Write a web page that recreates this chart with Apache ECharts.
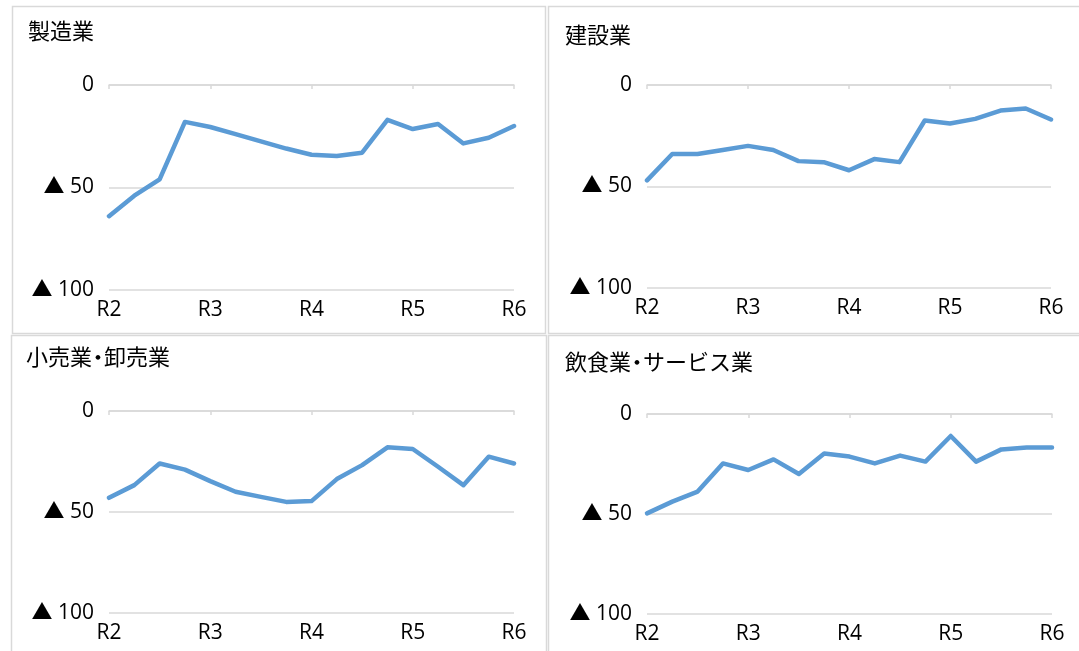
<!DOCTYPE html>
<html>
<head>
<meta charset="utf-8">
<script src="https://cdn.jsdelivr.net/npm/echarts@6/dist/echarts.min.js"></script>
<style>
  html, body { margin: 0; padding: 0; background: #ffffff; }
  #chart { width: 1079px; height: 651px; }
</style>
</head>
<body>
<div id="chart"></div>
<script>
// Fiscal-year tick labels (令和) and quarterly points between them
const yearTicks = ['R2', 'R3', 'R4', 'R5', 'R6'];
const quarters = [];
yearTicks.forEach((y, i) => {
  const n = i < yearTicks.length - 1 ? 4 : 1;
  for (let q = 0; q < n; q++) quarters.push(y + '-' + q);
});

// Panel titles
const panelTitles = ['製造業', '建設業', '小売業・卸売業', '飲食業・サービス業'];

// DI values per industry (negative = ▲)
const manufacturing = [-64, -54, -46, -18, -20.5, -24, -27.5, -31, -34, -34.6, -33, -17, -21.5, -19, -28.5, -25.7, -20];
const construction  = [-47, -34, -34, -32, -30, -32, -37.5, -38, -42, -36.5, -38, -17.5, -19, -16.7, -12.6, -11.6, -17];
const retail        = [-43, -36.7, -26, -29, -34.7, -40, -42.5, -45, -44.6, -33.7, -26.8, -18, -18.8, -27.6, -36.7, -22.6, -26];
const foodService   = [-49.7, -43.8, -38.8, -24.7, -28, -22.7, -30, -19.7, -21.3, -24.7, -20.8, -23.8, -11, -23.8, -17.7, -16.8, -16.8];

const seriesData = [manufacturing, construction, retail, foodService];

// Layout of the four panels
const grids = [
  { left: 109, top: 85,  width: 405, height: 205 },
  { left: 647, top: 85,  width: 404, height: 203 },
  { left: 109, top: 411, width: 405, height: 202 },
  { left: 647, top: 414, width: 405, height: 200 }
];
const titlePos = [
  { left: 28,  top: 20 },
  { left: 565, top: 24 },
  { left: 26,  top: 346 },
  { left: 565, top: 351 }
];

const GRID_COLOR = '#d9d9d9';
const LINE_COLOR = '#5b9bd5';
const LATIN = '"Open Sans", "Noto Sans CJK JP", sans-serif';
const CJK = '"Noto Sans CJK JP", sans-serif';

// Title text with a compact middle dot between the words
function titleRich(t) {
  return t.split('・').map(s => '{w|' + s + '}').join('{d|・}');
}

const xAxes = [];
const yAxes = [];
const series = [];

grids.forEach((g, i) => {
  // bottom axis: year labels only
  xAxes.push({
    type: 'category', gridIndex: i, position: 'bottom', data: quarters, boundaryGap: false,
    axisLine: { show: false }, axisTick: { show: false },
    axisLabel: {
      interval: 3, margin: 10, color: '#000', fontFamily: LATIN, fontSize: 21,
      formatter: v => v.split('-')[0]
    }
  });
  // top axis: the zero line with its tick marks
  xAxes.push({
    type: 'category', gridIndex: i, position: 'top', data: quarters, boundaryGap: false,
    axisLine: { show: true, lineStyle: { color: GRID_COLOR, width: 1.5 } },
    axisTick: { show: true, inside: true, length: 4, interval: 3, lineStyle: { color: GRID_COLOR, width: 1.5 } },
    axisLabel: { show: false }
  });
  yAxes.push({
    type: 'value', gridIndex: i, min: -100, max: 0, interval: 50,
    axisLine: { show: false }, axisTick: { show: false },
    splitLine: { lineStyle: { color: GRID_COLOR, width: 1.5 } },
    axisLabel: {
      margin: 15, color: '#000', fontFamily: LATIN, fontSize: 21,
      formatter: v => (v < 0 ? '▲ ' + (-v) : String(v))
    }
  });
  series.push({
    type: 'line', xAxisIndex: i * 2, yAxisIndex: i, data: seriesData[i],
    symbol: 'none', smooth: false,
    lineStyle: { color: LINE_COLOR, width: 4.5, cap: 'round', join: 'round' }
  });
});

const borders = [
  { x: 12.5, y: 6.5,   width: 533, height: 327 },
  { x: 548.5, y: 6.5,  width: 540, height: 327 },
  { x: 11.5, y: 335.5, width: 535, height: 330 },
  { x: 548.5, y: 335.5, width: 540, height: 330 }
];

const titleFont = { fontFamily: CJK, fontSize: 22, fontWeight: 'normal', color: '#000' };

const chart = echarts.init(document.getElementById('chart'), null, { renderer: 'canvas' });
chart.setOption({
  backgroundColor: '#ffffff',
  animation: false,
  title: panelTitles.map((t, i) => ({
    text: titleRich(t), left: titlePos[i].left, top: titlePos[i].top, padding: 0,
    textStyle: Object.assign({}, titleFont, {
      rich: {
        w: titleFont,
        d: Object.assign({}, titleFont, { width: 12, align: 'center' })
      }
    })
  })),
  graphic: borders.map(b => ({
    type: 'rect', shape: b, silent: true, z: -1,
    style: { fill: 'none', stroke: GRID_COLOR, lineWidth: 1.5 }
  })),
  grid: grids,
  xAxis: xAxes,
  yAxis: yAxes,
  series: series
});
</script>
</body>
</html>
